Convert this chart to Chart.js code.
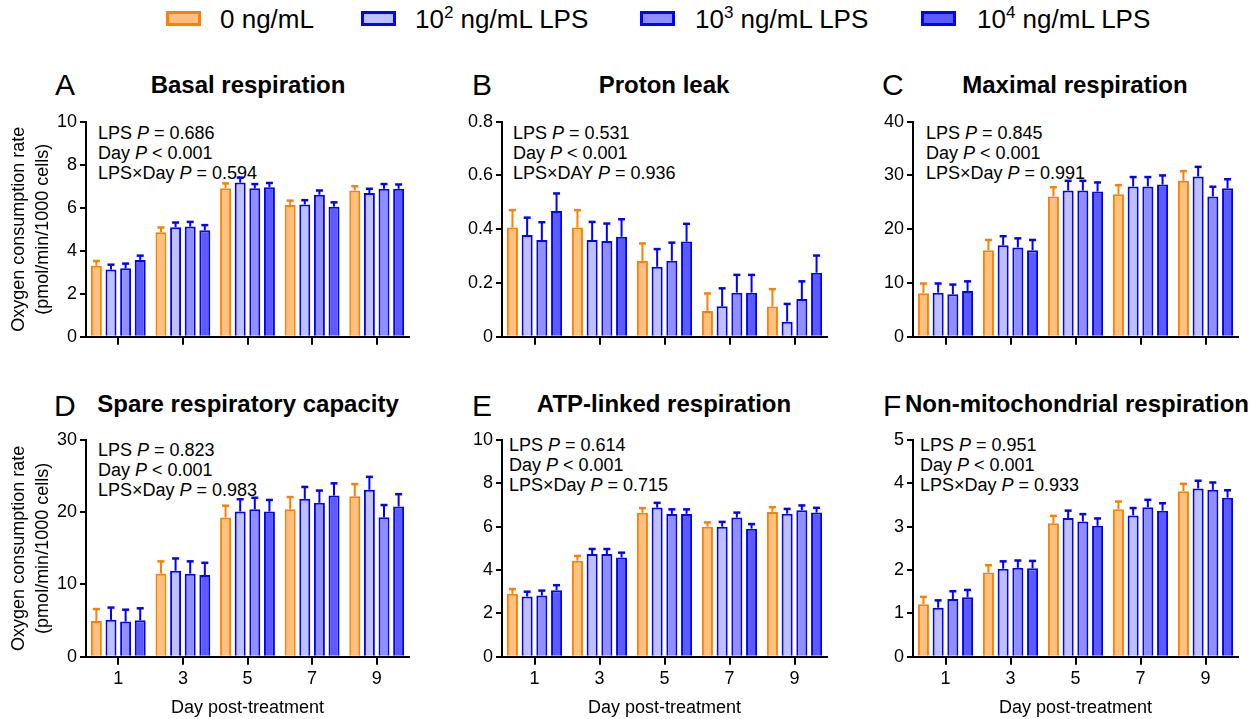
<!DOCTYPE html>
<html>
<head>
<meta charset="utf-8">
<script src="https://cdn.jsdelivr.net/npm/chart.js@4.4.1/dist/chart.umd.min.js"></script>
<style>
  html, body { margin: 0; padding: 0; background: #fff; }
  body { font-family: 'Liberation Sans', Arial, sans-serif; color: #000; }
  #fig { position: relative; width: 1260px; height: 719px; overflow: hidden; }
  canvas { position: absolute; }
  .lg-box { position: absolute; top: 11px; width: 35px; height: 15px; box-sizing: border-box; border: 3px solid #0000ff; }
  .lg-txt { position: absolute; top: 4px; font-size: 26px; line-height: 30px; white-space: nowrap; }
  .lg-txt sup { font-size: 17px; line-height: 0; vertical-align: 10px; }
  .letter { position: absolute; font-size: 30px; line-height: 34px; }
  .title { position: absolute; width: 400px; text-align: center; font-weight: bold; font-size: 24px; line-height: 28px; white-space: nowrap; }
  .stats { position: absolute; font-size: 18px; line-height: 20px; white-space: nowrap; }
</style>
</head>
<body>
<div id="fig">
  <div class="lg-box" style="left:166px;border-color:#ff8000;background:#ffc080"></div>
  <div class="lg-txt" style="left:220px">0 ng/mL</div>
  <div class="lg-box" style="left:361px;background:#c0c0ff"></div>
  <div class="lg-txt" style="left:415px">10<sup>2</sup> ng/mL LPS</div>
  <div class="lg-box" style="left:640px;background:#8f8fff"></div>
  <div class="lg-txt" style="left:695px">10<sup>3</sup> ng/mL LPS</div>
  <div class="lg-box" style="left:921px;background:#5b5bff"></div>
  <div class="lg-txt" style="left:977px">10<sup>4</sup> ng/mL LPS</div>

  <div class="letter" style="left:55px;top:68px">A</div>
  <div class="title" style="left:48px;top:71px">Basal respiration</div>
  <div class="stats" style="left:98px;top:123px">LPS <i>P</i> = 0.686<br>Day <i>P</i> &lt; 0.001<br>LPS×Day <i>P</i> = 0.594</div>

  <div class="letter" style="left:472px;top:68px">B</div>
  <div class="title" style="left:464px;top:71px">Proton leak</div>
  <div class="stats" style="left:513px;top:123px">LPS <i>P</i> = 0.531<br>Day <i>P</i> &lt; 0.001<br>LPS×DAY <i>P</i> = 0.936</div>

  <div class="letter" style="left:882px;top:68px">C</div>
  <div class="title" style="left:875px;top:71px">Maximal respiration</div>
  <div class="stats" style="left:926px;top:123px">LPS <i>P</i> = 0.845<br>Day <i>P</i> &lt; 0.001<br>LPS×Day <i>P</i> = 0.991</div>

  <div class="letter" style="left:54px;top:389px">D</div>
  <div class="title" style="left:48px;top:390px">Spare respiratory capacity</div>
  <div class="stats" style="left:98px;top:440px">LPS <i>P</i> = 0.823<br>Day <i>P</i> &lt; 0.001<br>LPS×Day <i>P</i> = 0.983</div>

  <div class="letter" style="left:472px;top:389px">E</div>
  <div class="title" style="left:464px;top:390px">ATP-linked respiration</div>
  <div class="stats" style="left:509px;top:435px">LPS <i>P</i> = 0.614<br>Day <i>P</i> &lt; 0.001<br>LPS×Day <i>P</i> = 0.715</div>

  <div class="letter" style="left:883px;top:389px">F</div>
  <div class="title" style="left:877px;top:390px">Non-mitochondrial respiration</div>
  <div class="stats" style="left:920px;top:435px">LPS <i>P</i> = 0.951<br>Day <i>P</i> &lt; 0.001<br>LPS×Day <i>P</i> = 0.933</div>

  <canvas id="cA" width="420" height="260" style="left:0;top:100px"></canvas>
  <canvas id="cB" width="420" height="260" style="left:420px;top:100px"></canvas>
  <canvas id="cC" width="420" height="260" style="left:840px;top:100px"></canvas>
  <canvas id="cD" width="420" height="339" style="left:0;top:380px"></canvas>
  <canvas id="cE" width="420" height="339" style="left:420px;top:380px"></canvas>
  <canvas id="cF" width="420" height="339" style="left:840px;top:380px"></canvas>
</div>

<script>
// Seahorse OCR parameters, mean + SEM per LPS dose, days 1-9

const days = ['1', '3', '5', '7', '9'];
const doses = ['0 ng/mL', '10² ng/mL LPS', '10³ ng/mL LPS', '10⁴ ng/mL LPS'];

// each array: one row per dose (0, 10^2, 10^3, 10^4), one value per day
const basalMean = [
  [3.30, 4.86, 6.91, 6.13, 6.80],
  [3.12, 5.09, 7.17, 6.15, 6.68],
  [3.18, 5.12, 6.90, 6.60, 6.88],
  [3.57, 4.95, 6.95, 6.05, 6.88]
];
const basalSem = [
  [0.22, 0.22, 0.22, 0.20, 0.20],
  [0.23, 0.22, 0.23, 0.20, 0.20],
  [0.22, 0.22, 0.20, 0.20, 0.22],
  [0.20, 0.24, 0.20, 0.20, 0.20]
];

const leakMean = [
  [0.406, 0.406, 0.282, 0.096, 0.112],
  [0.378, 0.360, 0.260, 0.113, 0.056],
  [0.360, 0.356, 0.283, 0.164, 0.140],
  [0.468, 0.372, 0.354, 0.164, 0.238]
];
const leakSem = [
  [0.065, 0.065, 0.065, 0.065, 0.065],
  [0.065, 0.067, 0.066, 0.067, 0.066],
  [0.066, 0.065, 0.067, 0.066, 0.066],
  [0.065, 0.065, 0.066, 0.066, 0.064]
];

const maxMean = [
  [8.1, 16.1, 26.1, 26.5, 29.0],
  [8.2, 17.0, 27.2, 27.95, 29.8],
  [7.9, 16.6, 27.2, 27.95, 26.1],
  [8.5, 16.1, 27.0, 28.3, 27.6]
];
const maxSem = [
  [1.8, 1.9, 1.7, 1.7, 1.8],
  [1.7, 1.7, 1.8, 1.75, 1.8],
  [1.8, 1.7, 1.8, 1.75, 1.8],
  [1.8, 1.9, 1.7, 1.7, 1.7]
];

const spareMean = [
  [4.95, 11.5, 19.26, 20.4, 22.2],
  [5.1, 11.9, 20.1, 21.85, 23.1],
  [4.86, 11.5, 20.4, 21.3, 19.3],
  [5.05, 11.3, 20.1, 22.3, 20.8]
];
const spareSem = [
  [1.65, 1.7, 1.65, 1.7, 1.7],
  [1.7, 1.7, 1.7, 1.65, 1.8],
  [1.65, 1.7, 1.6, 1.7, 1.7],
  [1.65, 1.7, 1.6, 1.7, 1.7]
];

const atpMean = [
  [2.90, 4.43, 6.64, 6.00, 6.68],
  [2.78, 4.74, 6.88, 6.00, 6.60],
  [2.82, 4.74, 6.59, 6.42, 6.76],
  [3.07, 4.58, 6.59, 5.91, 6.65]
];
const atpSem = [
  [0.22, 0.22, 0.22, 0.20, 0.22],
  [0.22, 0.23, 0.22, 0.22, 0.22],
  [0.23, 0.23, 0.21, 0.23, 0.22],
  [0.23, 0.22, 0.21, 0.21, 0.22]
];

const nonMitoMean = [
  [1.21, 1.94, 3.08, 3.40, 3.82],
  [1.13, 2.03, 3.20, 3.26, 3.88],
  [1.33, 2.05, 3.12, 3.45, 3.85],
  [1.37, 2.04, 3.02, 3.37, 3.67]
];
const nonMitoSem = [
  [0.17, 0.17, 0.17, 0.18, 0.17],
  [0.17, 0.17, 0.17, 0.17, 0.18],
  [0.18, 0.17, 0.17, 0.17, 0.17],
  [0.17, 0.17, 0.17, 0.17, 0.17]
];

const fills = ['#ffc080', '#c0c0ff', '#8f8fff', '#5b5bff'];
const edges = ['#ff8000', '#0000ff', '#0000ff', '#0000ff'];

Chart.defaults.font.family = "'Liberation Sans', Arial, sans-serif";
Chart.defaults.font.size = 18;
Chart.defaults.color = '#000';

// one-sided (upward) SEM bars drawn on top of each bar
const errorBars = {
  id: 'errorBars',
  afterDatasetsDraw(chart) {
    const ctx = chart.ctx;
    const yScale = chart.scales.y;
    chart.data.datasets.forEach((ds, i) => {
      const meta = chart.getDatasetMeta(i);
      ctx.save();
      ctx.strokeStyle = ds.borderColor;
      meta.data.forEach((bar, j) => {
        const top = yScale.getPixelForValue(ds.data[j] + ds.sem[j]);
        ctx.lineWidth = 2;
        ctx.beginPath();
        ctx.moveTo(bar.x, bar.y);
        ctx.lineTo(bar.x, top);
        ctx.stroke();
        ctx.lineWidth = 2.5;
        ctx.beginPath();
        ctx.moveTo(bar.x - 3.5, top);
        ctx.lineTo(bar.x + 3.5, top);
        ctx.stroke();
      });
      ctx.restore();
    });
  }
};

function makePanel(id, means, sems, yMax, yStep, o) {
  const datasets = means.map((row, k) => ({
    label: doses[k],
    data: row,
    sem: sems[k],
    backgroundColor: fills[k],
    borderColor: edges[k],
    borderWidth: 2,
    borderSkipped: 'bottom',
    barPercentage: 0.75,
    categoryPercentage: 0.905
  }));

  return new Chart(document.getElementById(id), {
    type: 'bar',
    data: { labels: days, datasets },
    plugins: [errorBars],
    options: {
      responsive: false,
      animation: false,
      layout: { autoPadding: false, padding: { top: o.padTop, right: o.padRight, left: 0, bottom: 0 } },
      plugins: { legend: { display: false }, tooltip: { enabled: false } },
      scales: {
        x: {
          afterFit: s => { s.height = o.xHeight; },
          border: { display: true, color: '#000', width: 2 },
          grid: { offset: false, drawOnChartArea: false, drawTicks: true, tickLength: 8, color: '#000', lineWidth: 2 },
          ticks: { display: o.xLabels, padding: 4, font: { size: 18 } },
          title: { display: o.xLabels, text: 'Day post-treatment', font: { size: 18 }, padding: { top: 2, bottom: 0 } }
        },
        y: {
          min: 0,
          max: yMax,
          afterFit: s => { s.width = o.yWidth; },
          border: { display: true, color: '#000', width: 2 },
          grid: { drawOnChartArea: false, drawTicks: true, tickLength: 6, color: '#000', lineWidth: 2 },
          ticks: { stepSize: yStep, padding: 3, font: { size: 18 } },
          title: {
            display: o.yTitle,
            text: ['Oxygen consumption rate', '(pmol/min/1000 cells)'],
            font: { size: 18, lineHeight: 1.33 },
            padding: { top: 7, bottom: 0 }
          }
        }
      }
    }
  });
}

const topRow = { padTop: 21.7, xHeight: 23.3, xLabels: false };
const bottomRow = { padTop: 60, xHeight: 62.3, xLabels: true };

makePanel('cA', basalMean, basalSem, 10, 2, { ...topRow, yWidth: 86, padRight: 11, yTitle: true });
makePanel('cB', leakMean, leakSem, 0.8, 0.2, { ...topRow, yWidth: 82, padRight: 13, yTitle: false });
makePanel('cC', maxMean, maxSem, 40, 10, { ...topRow, yWidth: 73, padRight: 22, yTitle: false });
makePanel('cD', spareMean, spareSem, 30, 10, { ...bottomRow, yWidth: 86, padRight: 11, yTitle: true });
makePanel('cE', atpMean, atpSem, 10, 2, { ...bottomRow, yWidth: 82, padRight: 13, yTitle: false });
makePanel('cF', nonMitoMean, nonMitoSem, 5, 1, { ...bottomRow, yWidth: 73, padRight: 22, yTitle: false });
</script>
</body>
</html>
